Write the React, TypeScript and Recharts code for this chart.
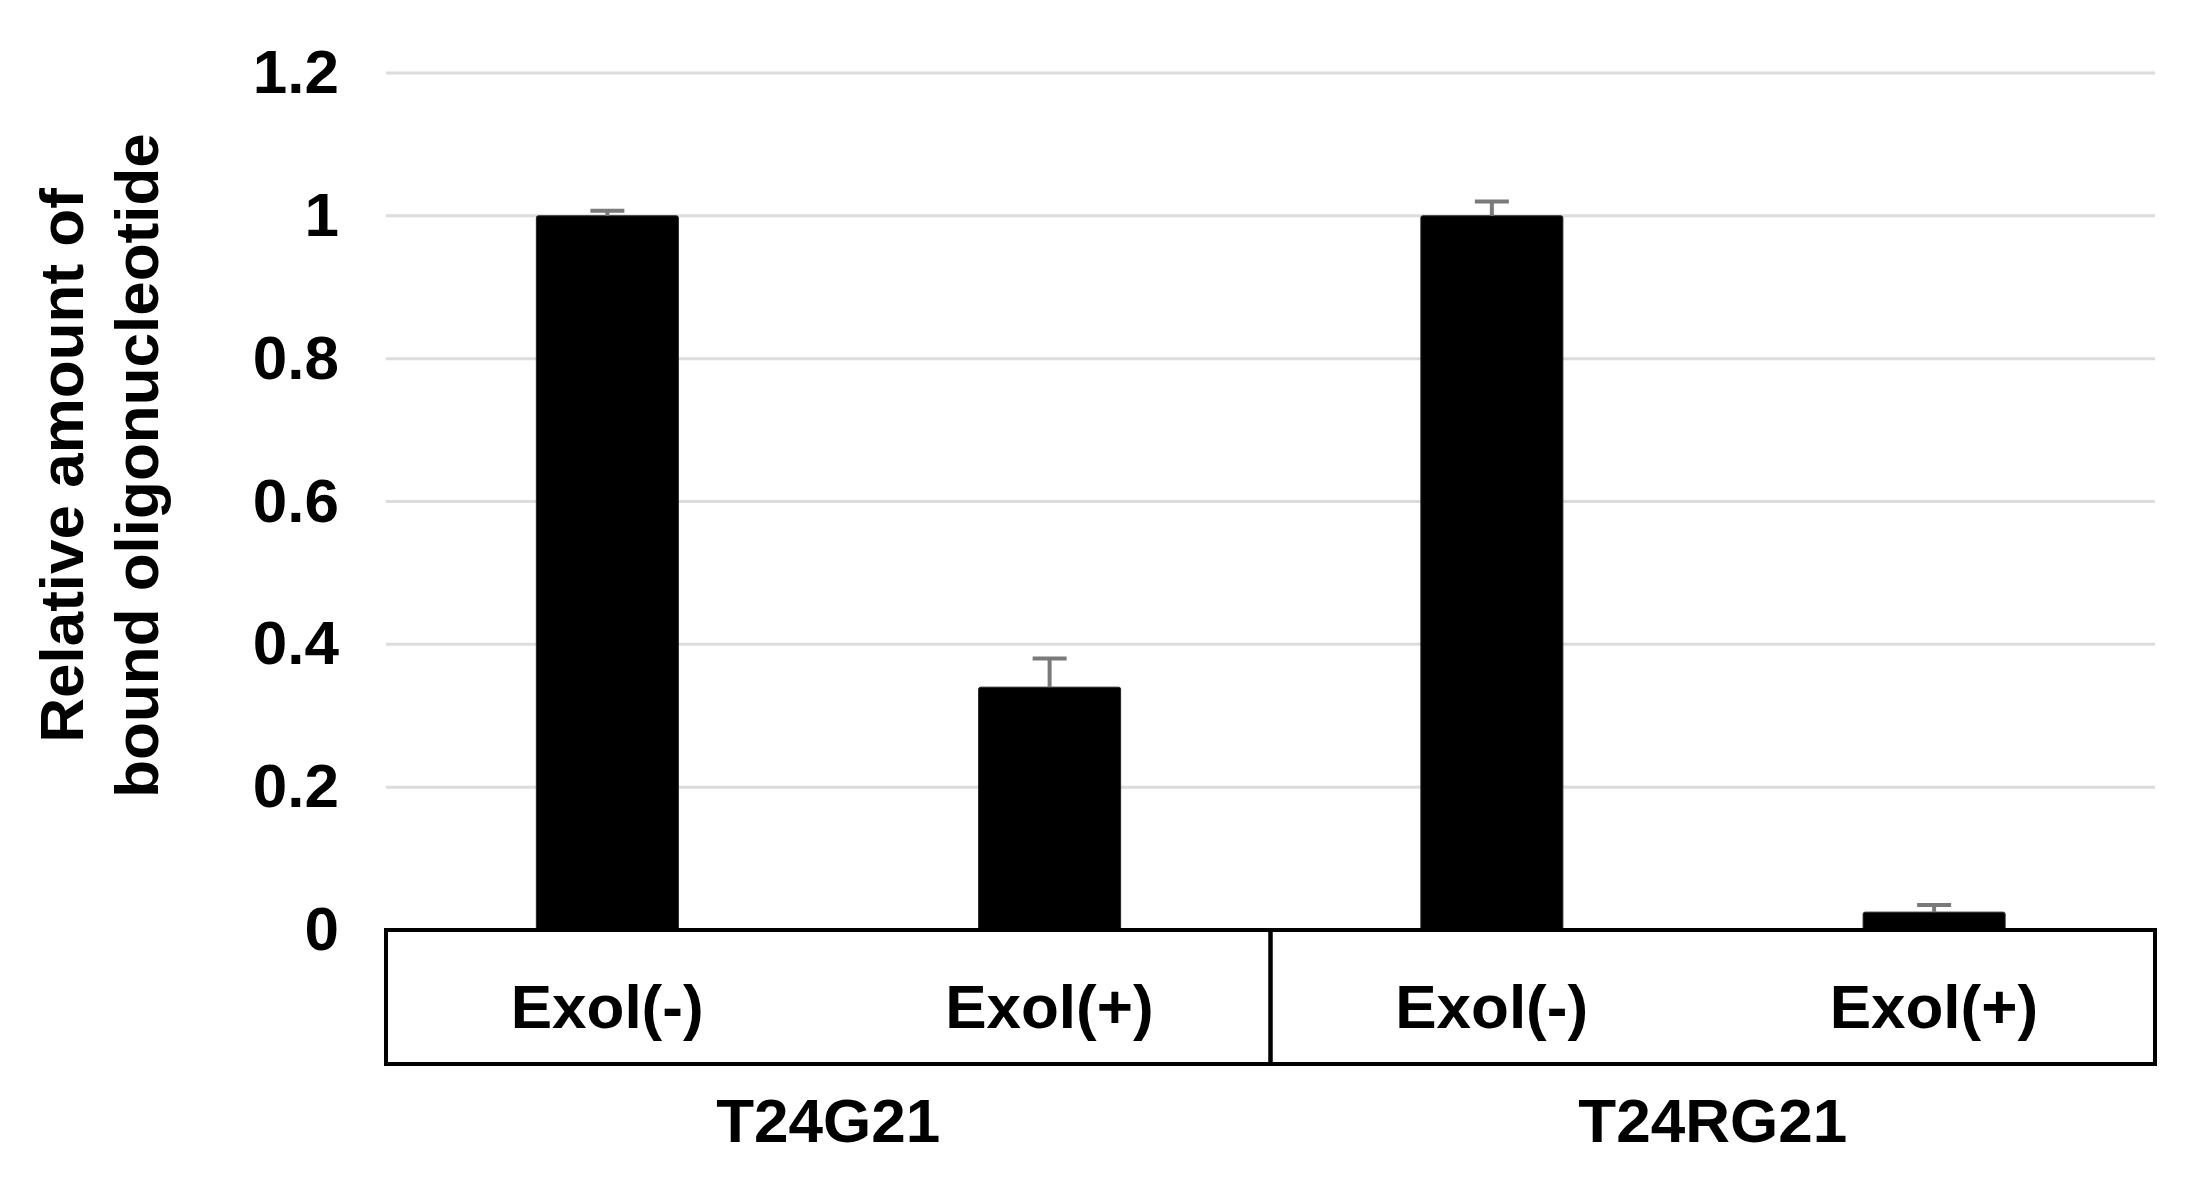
import React from 'react';
import { BarChart, Bar, XAxis, YAxis, CartesianGrid } from 'recharts';

// ---- data ----
const categories = ['Exol(-)', 'Exol(+)', 'Exol(-)', 'Exol(+)'];
const groups = ['T24G21', 'T24G21', 'T24RG21', 'T24RG21'];
const values = [1.0, 0.34, 1.0, 0.025];
const errors = [0.007, 0.04, 0.02, 0.01];
const yTicks = [0, 0.2, 0.4, 0.6, 0.8, 1, 1.2];
const yTickLabels = ['0', '0.2', '0.4', '0.6', '0.8', '1', '1.2'];
const titleLines = ['Relative amount of', 'bound oligonucleotide'];

const data = categories.map((c, i) => ({
  cond: c,
  group: groups[i],
  value: values[i],
  err: errors[i],
}));

// ---- styles ----
const FONT = '"Liberation Sans", Arial, Helvetica, sans-serif';
const FS = 62;
const COND_AXIS_H = 134;
const GROUP_AXIS_H = 115;

const BarWithError = (props: any) => {
  const { x, y, width, height, payload } = props;
  const v = payload.value;
  const e = payload.err;
  const errPx = v ? (e * height) / v : 0;
  const cx = x + width / 2;
  return (
    <g>
      <rect x={x} y={y} width={width} height={height} fill="#000" stroke="#222" strokeWidth={1} rx={2} />
      <line x1={cx} x2={cx} y1={y} y2={y - errPx} stroke="#7a7a7a" strokeWidth={4} />
      <line x1={cx - 17} x2={cx + 17} y1={y - errPx} y2={y - errPx} stroke="#7a7a7a" strokeWidth={4} />
    </g>
  );
};

const YTick = (props: any) => {
  const { x, y, payload } = props;
  const idx = yTicks.indexOf(payload.value);
  return (
    <text x={x} y={y} dy={20} textAnchor="end" fontFamily={FONT} fontSize={FS} fontWeight="bold" fill="#000">
      {idx >= 0 ? yTickLabels[idx] : payload.value}
    </text>
  );
};

const CondTick = (props: any) => {
  const { x, y, payload } = props;
  return (
    <text x={x} y={y} dy={98} textAnchor="middle" fontFamily={FONT} fontSize={FS} fontWeight="bold" fill="#000">
      {payload.value}
    </text>
  );
};

const GroupTick = (props: any) => {
  const { x, y, payload } = props;
  const half = payload.offset ?? 0;
  return (
    <g>
      <rect
        x={x - half}
        y={y - COND_AXIS_H}
        width={half * 2}
        height={COND_AXIS_H}
        fill="none"
        stroke="#000"
        strokeWidth={4}
      />
      <text x={x} y={y} dy={78} textAnchor="middle" fontFamily={FONT} fontSize={FS} fontWeight="bold" fill="#000">
        {payload.value}
      </text>
    </g>
  );
};

const TitleLabel = (props: any) => {
  const vb = props.viewBox || { x: 0, y: 73, width: 386, height: 857 };
  const tx = vb.x + 83;
  const cy = vb.y + vb.height / 2 - 36;
  return (
    <text
      transform={`translate(${tx},${cy}) rotate(-90)`}
      textAnchor="middle"
      fontFamily={FONT}
      fontSize={FS}
      fontWeight="bold"
      fill="#000"
    >
      <tspan x={0} y={0}>{titleLines[0]}</tspan>
      <tspan x={0} y={75}>{titleLines[1]}</tspan>
    </text>
  );
};

export default function App() {
  return (
    <div style={{ position: 'absolute', left: 0, top: 0, width: 2201, height: 1179, background: '#fff' }}>
      <BarChart
        width={2201}
        height={1179}
        data={data}
        margin={{ top: 73, right: 46, bottom: 0, left: 0 }}
        barCategoryGap="34%"
      >
        <CartesianGrid xAxisId="cond" vertical={false} stroke="#dcdcdc" strokeWidth={3} />
        <XAxis
          xAxisId="cond"
          dataKey="cond"
          height={COND_AXIS_H}
          axisLine={false}
          tickLine={false}
          tickSize={0}
          tickMargin={0}
          interval={0}
          tick={<CondTick />}
        />
        <XAxis
          xAxisId="grp"
          dataKey="group"
          allowDuplicatedCategory={false}
          height={GROUP_AXIS_H}
          axisLine={false}
          tickLine={false}
          tickSize={0}
          tickMargin={0}
          interval={0}
          tick={<GroupTick />}
        />
        <YAxis
          width={386}
          domain={[0, 1.2]}
          ticks={yTicks}
          interval={0}
          axisLine={false}
          tickLine={false}
          tickSize={0}
          tickMargin={47}
          tick={<YTick />}
          label={TitleLabel}
        />
        <Bar xAxisId="cond" dataKey="value" shape={<BarWithError />} isAnimationActive={false} />
      </BarChart>
    </div>
  );
}
